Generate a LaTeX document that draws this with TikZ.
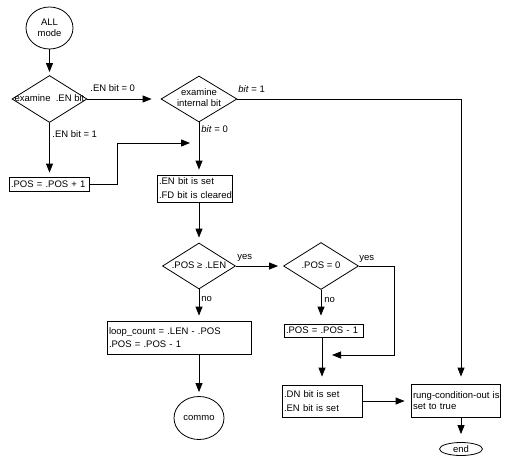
\documentclass[tikz,border=0pt]{standalone}
\usepackage{fontspec}
\setmainfont{Liberation Sans}
\usetikzlibrary{shapes.geometric,arrows.meta}
\newcommand\dtext[1]{\makebox[0pt]{\smash{\raisebox{\dimexpr-0.5\height+0.5\depth\relax}{\begin{tabular}{@{}c@{}}#1\end{tabular}}}}}
\begin{document}
\begin{tikzpicture}[x=1pt,y=-1pt,
  font=\fontsize{9.5}{10.5}\selectfont,
  line width=0.8pt,
  arr/.style={-{Triangle[width=7pt,length=9pt]}},
  dia/.style={draw,shape=diamond,minimum width=75pt,minimum height=47pt,inner sep=0pt},
  box/.style={draw,rectangle,inner xsep=2pt,inner ysep=0pt,align=left},
  term/.style={draw,ellipse,inner sep=0pt,align=center},
  lab/.style={anchor=west,inner sep=0pt}]
\path[fill=white] (0,0) rectangle (519,463);
\useasboundingbox (0,0) rectangle (519,463);

% nodes
\node[term,minimum width=47pt,minimum height=42pt] (ALL) at (49.5,28) {ALL\\mode};
\node[dia] (D1) at (49.5,99) {\dtext{examine\ \ .EN bit}};
\node[dia,minimum width=76pt,minimum height=46pt] (D2) at (199,99) {\dtext{examine\\internal bit}};
\node[box,minimum width=80pt,minimum height=14pt,text width=76pt] (POS1) at (49,184) {\mbox{.POS = .POS + 1}};
\node[box,minimum width=75pt,minimum height=27pt,text width=71pt] (EN) at (194.5,188.5) {\mbox{.EN bit is set}\\[3.5pt]\mbox{.FD bit is cleared}};
\node[dia,minimum width=73pt,minimum height=46pt] (D3) at (199,266) {\dtext{.POS ≥ .LEN}};
\node[dia] (D4) at (321,266) {\dtext{.POS = 0}};
\node[box,minimum width=144pt,minimum height=33pt,text width=140pt] (LOOP) at (179,337.5) {\mbox{loop\_count = .LEN - .POS}\\[2.5pt]\mbox{.POS = .POS - 1}};
\node[box,minimum width=79pt,minimum height=13pt,text width=75pt] (POS2) at (323.5,330.5) {\mbox{.POS = .POS - 1}};
\node[term,minimum width=50pt,minimum height=43pt] (COMMO) at (199,418) {commo};
\node[box,minimum width=80pt,minimum height=32pt,text width=76pt] (DN) at (322,401) {\mbox{.DN bit is set}\\[3.5pt]\mbox{.EN bit is set}};
\node[box,minimum width=89pt,minimum height=33pt,text width=85pt] (RUNG) at (455.5,400.5) {\mbox{rung-condition-out is}\\\mbox{set to true}\\[-2pt]};
\node[term,minimum width=43pt,minimum height=13pt] (END) at (461,449) {end};

% labels
\node[lab] (l1) at (90,88) {.EN bit = 0};
\node[lab] (l2) at (52,134) {.EN bit = 1};
\node[lab] (l3) at (238,89) {\textit{bit} = 1};
\node[lab] (l4) at (201,129) {\textit{bit} = 0};
\node[lab] (l5) at (237,258) {yes};
\node[lab] (l6) at (359,259) {yes};
\node[lab] (l7) at (201,299) {no};
\node[lab] (l8) at (324,300) {no};

% coordinates
\coordinate (b1) at (117,143);
\coordinate (j1) at (190,143);
\coordinate (c2) at (461,99);
\coordinate (r2) at (394,355);
\coordinate (r3) at (332,355);

% connectors
\draw[arr,shorten >=3pt] (ALL.south) -- (D1.north);
\draw[arr,shorten >=9pt] (D1.east) -- (D2.west);
\draw[arr,shorten >=4pt] (D1.south) -- (D1.south |- POS1.north);
\draw[arr] (POS1.east) -| (b1) -- (j1);
\draw[arr,shorten >=5pt] (D2.south) -- (D2.south |- EN.north);
\draw[arr,shorten >=7pt] (D2.east) -- (c2) -- (c2 |- RUNG.north);
\draw[arr,shorten >=5pt] (D3.north |- EN.south) -- (D3.north);
\draw[arr,shorten >=5pt] (D3.east) -- (D3.east -| D4.west);
\draw[arr,shorten >=5pt] (D3.south) -- (D3.south |- LOOP.north);
\draw[arr,shorten >=8pt] (D4.south) -- (D4.south |- POS2.north);
\draw[arr] (D4.east) -| (r2) -- (r3);
\draw[arr,shorten >=8pt] (DN.north |- POS2.south) -- (DN.north);
\draw[arr,shorten >=6pt] (DN.east) -- (DN.east -| RUNG.west);
\draw[arr,shorten >=8pt] (END.north |- RUNG.south) -- (END.north);
\draw[arr,shorten >=4pt] (COMMO.north |- LOOP.south) -- (COMMO.north);
\end{tikzpicture}
\end{document}
